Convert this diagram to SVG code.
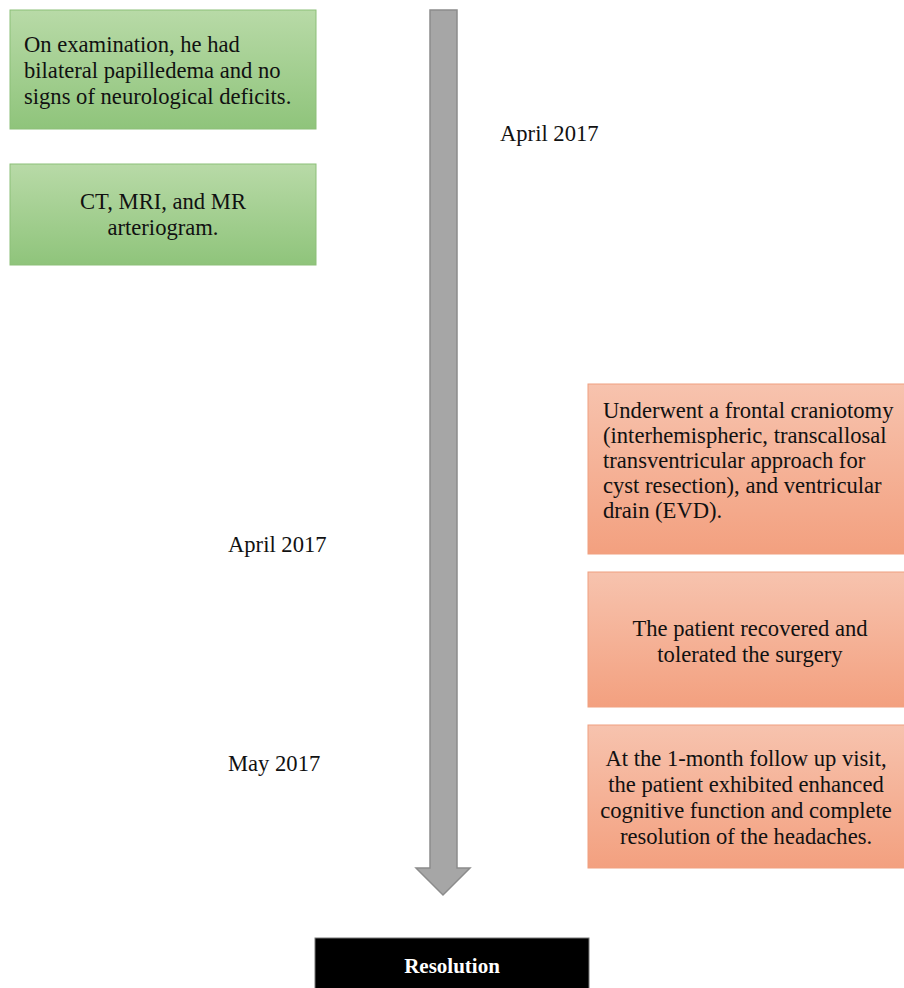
<svg xmlns="http://www.w3.org/2000/svg" width="904" height="988" viewBox="0 0 904 988">
<defs>
<linearGradient id="gGreen" x1="0" y1="0" x2="0" y2="1">
<stop offset="0" stop-color="#b8daa7"/>
<stop offset="1" stop-color="#8fc47b"/>
</linearGradient>
<linearGradient id="gOrange" x1="0" y1="0" x2="0" y2="1">
<stop offset="0" stop-color="#f7c3ae"/>
<stop offset="1" stop-color="#f3a07f"/>
</linearGradient>
</defs>
<style>
text{font-family:"Liberation Serif","DejaVu Serif","Times New Roman",serif;font-size:22.6px;fill:#111;}
.green{fill:url(#gGreen);stroke:#8cbf78;stroke-width:1;}
.orange{fill:url(#gOrange);stroke:#f0a080;stroke-width:1;}
.c{text-anchor:middle;}
</style>
<rect width="904" height="988" fill="#fff"/>
<g id="connectors">
<path d="M430,10 H457 V868 H470 L443,895 L416,868 H430 Z" fill="#a6a6a6" stroke="#8c8c8c" stroke-width="1.5"/>
</g>
<g id="node-exam">
<rect class="green" x="10" y="10" width="306" height="119"/>
<text x="24" y="52">On examination, he had</text>
<text x="24" y="78">bilateral papilledema and no</text>
<text x="24" y="104">signs of neurological deficits.</text>
</g>
<g id="node-imaging">
<rect class="green" x="10" y="164" width="306" height="101"/>
<text class="c" x="163" y="209">CT, MRI, and MR</text>
<text class="c" x="163" y="235">arteriogram.</text>
</g>
<g id="label-april1"><text x="500" y="141">April 2017</text></g>
<g id="label-april2"><text x="228" y="552">April 2017</text></g>
<g id="label-may"><text x="228" y="771">May 2017</text></g>
<g id="node-surgery">
<rect class="orange" x="588" y="384" width="320" height="170"/>
<text x="603" y="418">Underwent a frontal craniotomy</text>
<text x="603" y="443">(interhemispheric, transcallosal</text>
<text x="603" y="468">transventricular approach for</text>
<text x="603" y="493">cyst resection), and ventricular</text>
<text x="603" y="518">drain (EVD).</text>
</g>
<g id="node-recovered">
<rect class="orange" x="588" y="572" width="320" height="135"/>
<text class="c" x="750" y="636">The patient recovered and</text>
<text class="c" x="750" y="662">tolerated the surgery</text>
</g>
<g id="node-followup">
<rect class="orange" x="588" y="725" width="320" height="143"/>
<text class="c" x="746" y="766">At the 1-month follow up visit,</text>
<text class="c" x="746" y="792">the patient exhibited enhanced</text>
<text class="c" x="746" y="818">cognitive function and complete</text>
<text class="c" x="746" y="844">resolution of the headaches.</text>
</g>
<g id="node-resolution">
<rect x="315" y="938" width="274" height="52" fill="#000" stroke="#777" stroke-width="1"/>
<text class="c" x="452" y="973" style="fill:#fff;font-weight:bold;font-size:21px">Resolution</text>
</g>
</svg>
